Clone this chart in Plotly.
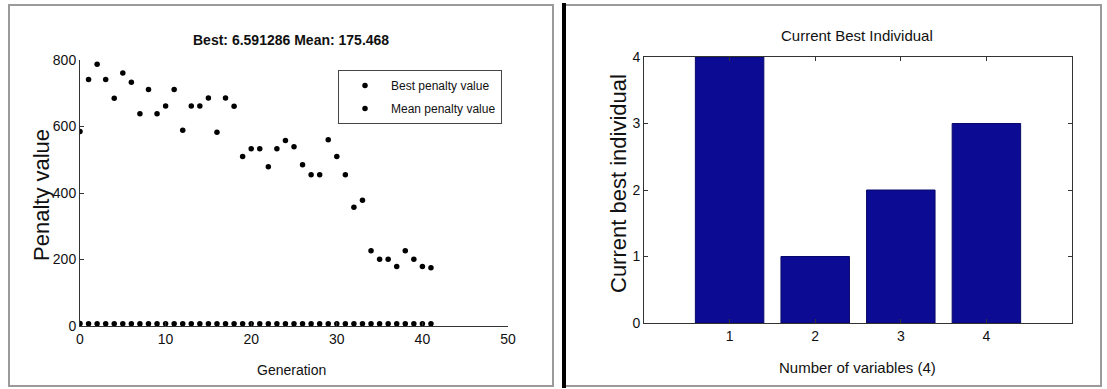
import plotly.graph_objects as go

# ---- data ----
generations = list(range(0, 42))
mean_penalty = [585, 741, 787, 741, 685, 761, 733, 638, 711, 638, 662,
                711, 589, 662, 662, 686, 583, 686, 661, 510, 533, 533,
                479, 533, 558, 539, 485, 455, 455, 560, 510, 455, 357,
                378, 226, 201, 201, 179, 226, 201, 179, 175.468]
best_penalty = [7.2, 7.1, 7.1, 7.0, 7.0, 7.0, 6.9, 6.9, 6.9, 6.9, 6.8,
                6.8, 6.8, 6.8, 6.8, 6.8, 6.7, 6.7, 6.7, 6.7, 6.7, 6.7,
                6.7, 6.7, 6.6, 6.6, 6.6, 6.6, 6.6, 6.6, 6.6, 6.6, 6.6,
                6.6, 6.6, 6.6, 6.6, 6.6, 6.6, 6.6, 6.6, 6.591286]
variables = [1, 2, 3, 4]
best_individual = [4, 1, 2, 3]
left_title = "Best: 6.591286 Mean: 175.468"
right_title = "Current Best Individual"

W, H = 1107, 389
def px(x):
    return x / W
def py(y):
    return 1 - y / H

FONT = "Liberation Sans, Arial, sans-serif"
TXT = "#111111"

fig = go.Figure()

fig.add_trace(go.Scatter(x=generations, y=best_penalty, mode="markers",
                         name="Best penalty value", legendgroup="best",
                         marker=dict(color="black", size=5.5, symbol="circle"),
                         xaxis="x", yaxis="y"))
fig.add_trace(go.Scatter(x=generations, y=mean_penalty, mode="markers",
                         name="Mean penalty value", legendgroup="mean",
                         marker=dict(color="black", size=5.5, symbol="circle"),
                         xaxis="x", yaxis="y"))
fig.add_trace(go.Bar(x=variables, y=best_individual, width=0.8,
                     marker=dict(color="#0B0B93", line=dict(color="#08086a", width=1)),
                     showlegend=False, xaxis="x2", yaxis="y2"))

axis_common = dict(showgrid=False, zeroline=False, showline=True,
                   linecolor="#333333", linewidth=1, ticks="inside",
                   ticklen=4, tickcolor="#333333", automargin=False,
                   tickfont=dict(family=FONT, size=14, color=TXT))

fig.update_layout(
    width=W, height=H, autosize=False,
    margin=dict(l=0, r=0, t=0, b=0, pad=0, autoexpand=False),
    paper_bgcolor="white", plot_bgcolor="white",
    font=dict(family=FONT, color=TXT),
    xaxis=dict(domain=[px(80), px(508)], range=[0, 50], dtick=10,
               anchor="y", **axis_common),
    yaxis=dict(domain=[py(326), py(60)], range=[0, 800], dtick=200,
               anchor="x", **axis_common),
    xaxis2=dict(domain=[px(644), px(1072)], range=[0, 5],
                tickvals=variables, mirror="ticks", anchor="y2", **axis_common),
    yaxis2=dict(domain=[py(323), py(57)], range=[0, 4], dtick=1,
                mirror="ticks", anchor="x2", **axis_common),
    legend=dict(x=px(338), y=py(70), xanchor="left", yanchor="top",
                bordercolor="#444444", borderwidth=1, bgcolor="white",
                font=dict(family=FONT, size=12, color=TXT),
                itemwidth=42, tracegroupgap=4),
    showlegend=True,
)

annotations = [
    dict(text="<b>" + left_title + "</b>", x=px(291), y=py(40), font=dict(size=14)),
    dict(text="Generation", x=px(292), y=py(370), font=dict(size=14)),
    dict(text="Penalty value", x=px(42), y=py(195), textangle=-90, font=dict(size=22)),
    dict(text=right_title, x=px(857), y=py(35), font=dict(size=15)),
    dict(text="Number of variables (4)", x=px(857), y=py(367), font=dict(size=15)),
    dict(text="Current best individual", x=px(618), y=py(184), textangle=-90, font=dict(size=22)),
]
for a in annotations:
    a.update(xref="paper", yref="paper", showarrow=False,
             xanchor="center", yanchor="middle")
    a["font"].update(family=FONT, color=TXT)
fig.update_layout(annotations=annotations)

shapes = [
    dict(type="rect", x0=px(9), x1=px(553), y0=py(386), y1=py(5),
         line=dict(color="#9a9a9a", width=2)),
    dict(type="rect", x0=px(563), x1=px(1101), y0=py(386), y1=py(5),
         line=dict(color="#9a9a9a", width=2)),
    dict(type="line", x0=px(564), x1=px(564), y0=py(388), y1=py(3),
         line=dict(color="black", width=4)),
]
for s in shapes:
    s.update(xref="paper", yref="paper", layer="above")
fig.update_layout(shapes=shapes)

fig.write_html("out.html",
               config={"displayModeBar": False},
               post_script="document.body.style.margin='0';document.body.style.overflow='hidden';")
